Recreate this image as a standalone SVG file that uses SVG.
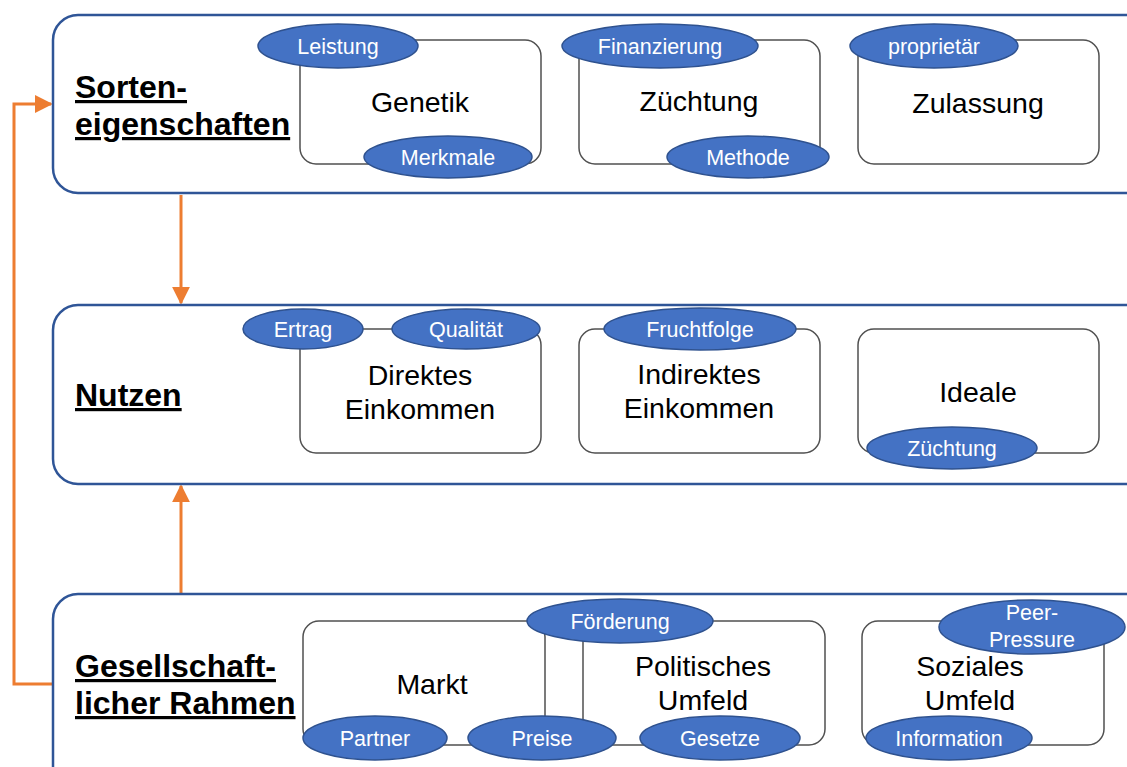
<svg xmlns="http://www.w3.org/2000/svg" width="1127" height="767" viewBox="0 0 1127 767">
<style>
.panel{fill:#fff;stroke:#2F5597;stroke-width:2.5}
.box{fill:#fff;stroke:#505050;stroke-width:1.5}
.ell{fill:#4472C4;stroke:#2F528F;stroke-width:1.5}
.et{font-family:"Liberation Sans",Arial,sans-serif;font-size:21.5px;fill:#fff;text-anchor:middle}
.bt{font-family:"Liberation Sans",Arial,sans-serif;font-size:28.5px;fill:#000;text-anchor:middle}
.ht{font-family:"Liberation Sans",Arial,sans-serif;font-size:32px;font-weight:bold;fill:#000;text-decoration:underline}
.con{fill:none;stroke:#ED7D31;stroke-width:3}
</style>
<defs>
<marker id="ah" viewBox="0 0 10 10" refX="9" refY="5" markerWidth="6" markerHeight="6" markerUnits="strokeWidth" orient="auto">
<path d="M0,0 L10,5 L0,10 z" fill="#ED7D31"/>
</marker>
</defs>
<g id="connectors">
<line class="con" x1="181" y1="195" x2="181" y2="303" marker-end="url(#ah)"/>
<line class="con" x1="181" y1="593" x2="181" y2="486" marker-end="url(#ah)"/>
<polyline class="con" points="53,684 14,684 14,104 51,104" marker-end="url(#ah)"/>
</g>
<g id="panel-sorten">
<rect class="panel" x="53" y="15" width="1100" height="178" rx="25"/>
<text class="ht" x="75" y="98">Sorten-</text>
<text class="ht" x="75" y="135">eigenschaften</text>
</g>
<g id="panel-nutzen">
<rect class="panel" x="53" y="305" width="1100" height="179" rx="25"/>
<text class="ht" x="75" y="406">Nutzen</text>
</g>
<g id="panel-rahmen">
<rect class="panel" x="53" y="594" width="1100" height="200" rx="25"/>
<text class="ht" x="75" y="677">Gesellschaft-</text>
<text class="ht" x="75" y="714">licher Rahmen</text>
</g>
<g id="genetik">
<rect class="box" x="300" y="40" width="241" height="124" rx="16"/>
<text class="bt" x="420" y="112">Genetik</text>
</g>
<g id="zuechtung">
<rect class="box" x="579" y="40" width="241" height="124" rx="16"/>
<text class="bt" x="699" y="111">Züchtung</text>
</g>
<g id="zulassung">
<rect class="box" x="858" y="40" width="241" height="124" rx="16"/>
<text class="bt" x="978" y="113">Zulassung</text>
</g>
<g id="direktes">
<rect class="box" x="300" y="329" width="241" height="124" rx="16"/>
<text class="bt" x="420" y="385">Direktes</text>
<text class="bt" x="420" y="419">Einkommen</text>
</g>
<g id="indirektes">
<rect class="box" x="579" y="329" width="241" height="124" rx="16"/>
<text class="bt" x="699" y="384">Indirektes</text>
<text class="bt" x="699" y="418">Einkommen</text>
</g>
<g id="ideale">
<rect class="box" x="858" y="329" width="241" height="124" rx="16"/>
<text class="bt" x="978" y="402">Ideale</text>
</g>
<g id="markt">
<rect class="box" x="303" y="621" width="242" height="124" rx="16"/>
<text class="bt" x="432" y="694">Markt</text>
</g>
<g id="politisches">
<rect class="box" x="583" y="621" width="242" height="124" rx="16"/>
<text class="bt" x="703" y="676">Politisches</text>
<text class="bt" x="703" y="710">Umfeld</text>
</g>
<g id="soziales">
<rect class="box" x="862" y="621" width="242" height="124" rx="16"/>
<text class="bt" x="970" y="676">Soziales</text>
<text class="bt" x="970" y="710">Umfeld</text>
</g>
<g id="tag-leistung"><ellipse class="ell" cx="338" cy="46" rx="80" ry="22"/><text class="et" x="338" y="54">Leistung</text></g>
<g id="tag-merkmale"><ellipse class="ell" cx="448" cy="157" rx="84" ry="21"/><text class="et" x="448" y="165">Merkmale</text></g>
<g id="tag-finanzierung"><ellipse class="ell" cx="660" cy="46" rx="98" ry="22"/><text class="et" x="660" y="54">Finanzierung</text></g>
<g id="tag-methode"><ellipse class="ell" cx="748" cy="157" rx="81" ry="21"/><text class="et" x="748" y="165">Methode</text></g>
<g id="tag-proprietaer"><ellipse class="ell" cx="934" cy="46" rx="84" ry="22"/><text class="et" x="934" y="54">proprietär</text></g>
<g id="tag-ertrag"><ellipse class="ell" cx="303" cy="329" rx="60" ry="20"/><text class="et" x="303" y="337">Ertrag</text></g>
<g id="tag-qualitaet"><ellipse class="ell" cx="466" cy="329" rx="74" ry="20"/><text class="et" x="466" y="337">Qualität</text></g>
<g id="tag-fruchtfolge"><ellipse class="ell" cx="700" cy="329" rx="96" ry="21"/><text class="et" x="700" y="337">Fruchtfolge</text></g>
<g id="tag-zuechtung2"><ellipse class="ell" cx="952" cy="448" rx="85" ry="21"/><text class="et" x="952" y="456">Züchtung</text></g>
<g id="tag-partner"><ellipse class="ell" cx="375" cy="738" rx="72" ry="22"/><text class="et" x="375" y="746">Partner</text></g>
<g id="tag-preise"><ellipse class="ell" cx="542" cy="738" rx="74" ry="22"/><text class="et" x="542" y="746">Preise</text></g>
<g id="tag-foerderung"><ellipse class="ell" cx="620" cy="621" rx="93" ry="22"/><text class="et" x="620" y="629">Förderung</text></g>
<g id="tag-gesetze"><ellipse class="ell" cx="720" cy="738" rx="80" ry="22"/><text class="et" x="720" y="746">Gesetze</text></g>
<g id="tag-peer"><ellipse class="ell" cx="1032" cy="627" rx="93" ry="27"/><text class="et" x="1032" y="620">Peer-</text><text class="et" x="1032" y="647">Pressure</text></g>
<g id="tag-information"><ellipse class="ell" cx="949" cy="738" rx="83" ry="22"/><text class="et" x="949" y="746">Information</text></g>
</svg>
